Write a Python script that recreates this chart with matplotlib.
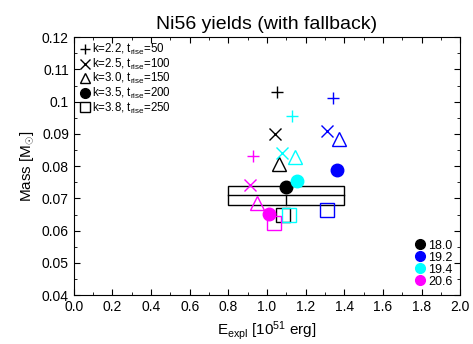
import matplotlib.pyplot as plt
from matplotlib.lines import Line2D
from matplotlib.patches import Rectangle

plt.rcParams['font.family'] = ['Liberation Sans', 'DejaVu Sans']
plt.rcParams['mathtext.fontset'] = 'custom'
plt.rcParams['mathtext.rm'] = 'Liberation Sans'
plt.rcParams['mathtext.it'] = 'Liberation Sans'

# progenitor masses and their colours
masses = ['18.0', '19.2', '19.4', '20.6']
colors = ['black', 'blue', 'cyan', 'magenta']

# (k, t_rise) models
models = ['k=2.2, t$_{\\rm rise}$=50', 'k=2.5, t$_{\\rm rise}$=100',
          'k=3.0, t$_{\\rm rise}$=150', 'k=3.5, t$_{\\rm rise}$=200',
          'k=3.8, t$_{\\rm rise}$=250']
markers = ['+', 'x', '^', 'o', 's']

# explosion energy per progenitor (rows) and model (cols)
E_expl = [
    [1.05, 1.04, 1.06, 1.10, 1.085],   # 18.0
    [1.34, 1.31, 1.37, 1.36, 1.31],    # 19.2
    [1.13, 1.08, 1.145, 1.155, 1.115], # 19.4
    [0.93, 0.91, 0.95, 1.01, 1.035],   # 20.6
]
Ni_mass = [
    [0.103, 0.090, 0.0808, 0.0734, 0.0650],
    [0.101, 0.091, 0.0883, 0.0788, 0.0664],
    [0.0956, 0.0841, 0.0827, 0.0753, 0.0650],
    [0.0831, 0.0743, 0.0687, 0.0653, 0.0624],
]

# observed value with error box
obs_E, obs_dE = 1.1, 0.3
obs_M, obs_dM = 0.071, 0.003

fig = plt.figure(figsize=(4.73, 3.44), dpi=100)
ax = fig.add_axes([0.156, 0.142, 0.817, 0.75])

ax.add_patch(Rectangle((obs_E - obs_dE, obs_M - obs_dM), 2 * obs_dE, 2 * obs_dM,
                       fill=False, edgecolor='black', lw=1.0))
ax.plot([obs_E - obs_dE, obs_E + obs_dE], [obs_M, obs_M], color='black', lw=1.0)
ax.plot([obs_E, obs_E], [obs_M - obs_dM, obs_M], color='black', lw=1.0)

for i, c in enumerate(colors):
    for j, m in enumerate(markers):
        if m in ['+', 'x']:
            ax.plot(E_expl[i][j], Ni_mass[i][j], marker=m, color=c, ms=9,
                    mew=1.0, ls='none')
        elif m == 'o':
            ax.plot(E_expl[i][j], Ni_mass[i][j], marker=m, color=c, ms=9,
                    ls='none')
        else:
            ax.plot(E_expl[i][j], Ni_mass[i][j], marker=m, mfc='none', mec=c,
                    ms=9.5, mew=1.0, ls='none')

ax.set_xlim(0, 2)
ax.set_ylim(0.04, 0.12)
ax.set_xticks([i * 0.2 for i in range(11)])
ax.set_xticklabels(['%.1f' % (i * 0.2) for i in range(11)])
ax.set_xticks([i * 0.1 for i in range(21)], minor=True)
ax.set_yticks([0.04 + i * 0.01 for i in range(9)])
ax.set_yticklabels(['0.04', '0.05', '0.06', '0.07', '0.08', '0.09', '0.1', '0.11', '0.12'])
ax.set_yticks([0.04 + i * 0.005 for i in range(17)], minor=True)
ax.tick_params(which='both', direction='in', top=True, right=True, labelsize=10)
ax.tick_params(which='major', length=4)
ax.tick_params(which='minor', length=2)

ax.set_xlabel('E$_{\\rm expl}$ [10$^{51}$ erg]', fontsize=11)
ax.set_ylabel('Mass [M$_{\\odot}$]', fontsize=11)
ax.set_title('Ni56 yields (with fallback)', fontsize=14)

h1 = []
for m, lab in zip(markers, models):
    if m in ['+', 'x', 'o']:
        h1.append(Line2D([], [], marker=m, color='black', ls='none', ms=7, label=lab))
    else:
        h1.append(Line2D([], [], marker=m, mfc='none', mec='black', ls='none', ms=7, label=lab))
leg1 = ax.legend(handles=h1, loc='upper left', frameon=False, fontsize=8.3,
                 handletextpad=0.05, borderaxespad=0.05, labelspacing=-0.05,
                 handlelength=1.1)
ax.add_artist(leg1)

h2 = [Line2D([], [], marker='o', color=c, ls='none', ms=7, label=lab)
      for c, lab in zip(colors, masses)]
ax.legend(handles=h2, loc='lower right', frameon=False, fontsize=9,
          handletextpad=0.05, borderaxespad=0.2, labelspacing=0.0,
          handlelength=1.2)

plt.savefig('out.png', dpi=100)
